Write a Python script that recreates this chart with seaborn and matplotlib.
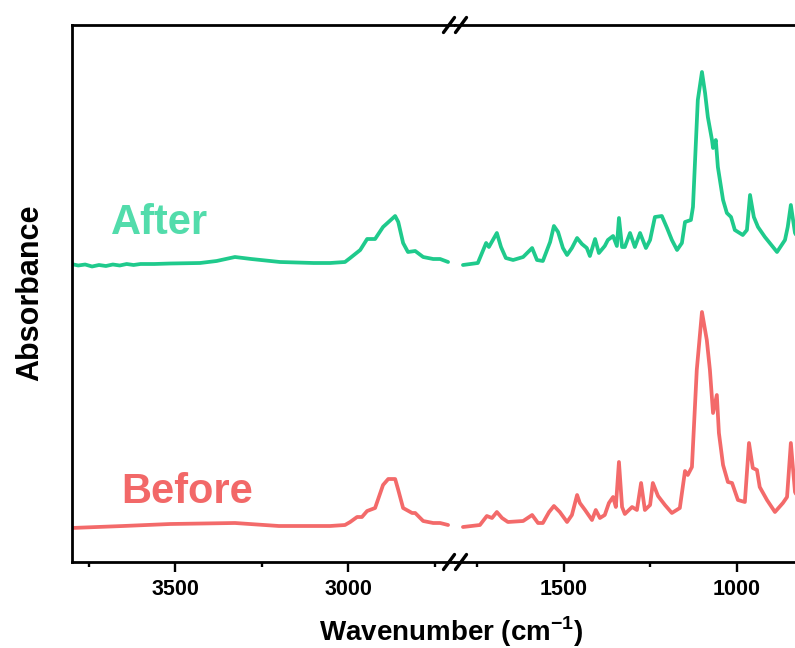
import matplotlib
matplotlib.use("Agg")
import matplotlib.pyplot as plt
import seaborn as sns
import pandas as pd

# ---------------- data ----------------
# High-wavenumber region (left panel), cm^-1
after_hi_wn = [3800, 3780, 3760, 3740, 3720, 3700, 3680, 3660, 3640, 3620, 3600,
               3560, 3514, 3428, 3380, 3327, 3280, 3197, 3100, 3052, 3009, 2994,
               2965, 2945, 2922, 2899, 2864, 2855, 2841, 2827, 2806, 2783, 2754,
               2734, 2711]
after_hi_abs = [2.98, 2.965, 2.975, 2.955, 2.97, 2.96, 2.975, 2.965, 2.98, 2.97, 2.98,
                2.98, 2.985, 2.99, 3.01, 3.05, 3.03, 3.00, 2.99, 2.99, 3.00, 3.04,
                3.12, 3.23, 3.23, 3.35, 3.46, 3.40, 3.19, 3.10, 3.11, 3.05, 3.03,
                3.03, 3.00]

before_hi_wn = [3800, 3650, 3514, 3327, 3200, 3052, 3009, 2994, 2974, 2960, 2945,
                2922, 2899, 2884, 2864, 2855, 2841, 2815, 2806, 2783, 2754, 2734, 2711]
before_hi_abs = [0.34, 0.36, 0.38, 0.39, 0.36, 0.36, 0.37, 0.40, 0.45, 0.45, 0.51,
                 0.54, 0.77, 0.83, 0.83, 0.72, 0.54, 0.49, 0.49, 0.41, 0.39, 0.39, 0.37]

# Fingerprint region (right panel), cm^-1
after_lo_wn = [1792, 1749, 1725, 1717, 1694, 1682, 1668, 1647, 1618, 1592, 1578,
               1561, 1540, 1529, 1517, 1503, 1491, 1477, 1462, 1448, 1434, 1425,
               1410, 1399, 1382, 1373, 1358, 1347, 1341, 1332, 1324, 1309, 1295,
               1280, 1263, 1251, 1237, 1217, 1202, 1188, 1173, 1159, 1150, 1133,
               1127, 1113, 1101, 1092, 1084, 1072, 1069, 1061, 1055, 1040, 1029,
               1017, 1006, 983, 971, 962, 951, 939, 919, 884, 861, 853, 844, 832, 820]
after_lo_abs = [2.97, 2.99, 3.19, 3.15, 3.29, 3.15, 3.04, 3.02, 3.05, 3.14, 3.02,
                3.01, 3.20, 3.36, 3.30, 3.14, 3.07, 3.14, 3.24, 3.18, 3.14, 3.06,
                3.23, 3.09, 3.16, 3.22, 3.26, 3.16, 3.44, 3.15, 3.15, 3.29, 3.15,
                3.29, 3.14, 3.22, 3.45, 3.46, 3.34, 3.22, 3.12, 3.19, 3.40, 3.42,
                3.55, 4.62, 4.90, 4.69, 4.45, 4.22, 4.14, 4.22, 3.95, 3.62, 3.49,
                3.45, 3.32, 3.27, 3.32, 3.67, 3.45, 3.35, 3.25, 3.10, 3.22, 3.35,
                3.57, 3.29, 3.22]

before_lo_wn = [1792, 1743, 1723, 1708, 1694, 1679, 1662, 1618, 1592, 1575, 1561,
                1543, 1529, 1512, 1491, 1477, 1462, 1454, 1439, 1419, 1408, 1396,
                1382, 1370, 1358, 1350, 1341, 1332, 1324, 1303, 1289, 1277, 1266,
                1251, 1243, 1228, 1208, 1188, 1165, 1150, 1142, 1130, 1116, 1101,
                1087, 1078, 1069, 1058, 1052, 1040, 1026, 1014, 997, 977, 965,
                954, 942, 934, 913, 890, 867, 855, 844, 832, 820]
before_lo_abs = [0.35, 0.37, 0.46, 0.44, 0.50, 0.44, 0.40, 0.41, 0.47, 0.39, 0.39,
                 0.50, 0.56, 0.50, 0.40, 0.47, 0.67, 0.59, 0.52, 0.42, 0.52, 0.44,
                 0.47, 0.59, 0.65, 0.55, 1.00, 0.55, 0.48, 0.55, 0.52, 0.79, 0.52,
                 0.57, 0.79, 0.66, 0.57, 0.49, 0.54, 0.91, 0.87, 0.95, 1.92, 2.50,
                 2.22, 1.92, 1.49, 1.67, 1.29, 0.97, 0.80, 0.79, 0.62, 0.60, 1.19,
                 0.94, 0.92, 0.75, 0.62, 0.50, 0.59, 0.65, 1.19, 0.70, 0.62]

left_xlim = (3798, 2691)
right_xlim = (1815, 832)
left_major = [3500, 3000]
left_minor = [3750, 3250, 2750]
right_major = [1500, 1000]
right_minor = [1750, 1250]

green_line = "#1fca8c"
green_text = "#52dcab"
red_line = "#f36a6a"
red_text = "#f26868"

# ---------------- figure ----------------
sns.set_theme(style="ticks")
plt.rcParams["font.family"] = ["Liberation Sans", "DejaVu Sans"]
plt.rcParams["font.weight"] = "bold"
plt.rcParams["text.color"] = "black"
plt.rcParams["xtick.color"] = "black"
plt.rcParams["xtick.labelcolor"] = "black"
plt.rcParams["mathtext.fontset"] = "custom"
plt.rcParams["mathtext.rm"] = "Liberation Sans:bold"
plt.rcParams["mathtext.bf"] = "Liberation Sans:bold"

W, H = 795, 648
fig = plt.figure(figsize=(W / 100, H / 100), dpi=100)
x0, xb, x1 = 72, 455, 795
ytop, ybot = 25, 562
ax1 = fig.add_axes([x0 / W, (H - ybot) / H, (xb - x0) / W, (ybot - ytop) / H])
ax2 = fig.add_axes([xb / W, (H - ybot) / H, (x1 - xb) / W, (ybot - ytop) / H])

def frame(wn, ab):
    return pd.DataFrame({"wn": wn, "abs": ab})

for ax, a_wn, a_ab, b_wn, b_ab in [
    (ax1, after_hi_wn, after_hi_abs, before_hi_wn, before_hi_abs),
    (ax2, after_lo_wn, after_lo_abs, before_lo_wn, before_lo_abs),
]:
    sns.lineplot(data=frame(a_wn, a_ab), x="wn", y="abs", ax=ax, color=green_line,
                 lw=2.7, estimator=None, sort=False, solid_joinstyle="round",
                 solid_capstyle="round")
    sns.lineplot(data=frame(b_wn, b_ab), x="wn", y="abs", ax=ax, color=red_line,
                 lw=2.7, estimator=None, sort=False, solid_joinstyle="round",
                 solid_capstyle="round")
    ax.set_ylim(0, 5.37)
    ax.set_yticks([])
    ax.set_xlabel("")
    ax.set_ylabel("")
    for s in ax.spines.values():
        s.set_linewidth(2.0)
        s.set_color("black")
    ax.tick_params(axis="x", which="major", direction="out", length=7, width=1.7,
                   labelsize=15.5, pad=5, colors="black")
    ax.tick_params(axis="x", which="minor", direction="out", length=3.5, width=1.7,
                   colors="black")

ax1.set_xlim(*left_xlim)
ax2.set_xlim(*right_xlim)
ax1.set_xticks(left_major)
ax1.set_xticks(left_minor, minor=True)
ax2.set_xticks(right_major)
ax2.set_xticks(right_minor, minor=True)
for ax in (ax1, ax2):
    ax.set_xticklabels([str(v) for v in ax.get_xticks()], fontweight="bold",
                       fontsize=15.5, color="black")

ax1.spines["right"].set_visible(False)
ax2.spines["left"].set_visible(False)
ax2.spines["right"].set_visible(False)

# break marks "//" on top and bottom spines
for yy in (ytop, ybot):
    for dx in (-6, 6):
        cx = xb + dx
        fig.add_artist(plt.Line2D([(cx - 5.5) / W, (cx + 5.5) / W],
                                  [(H - yy - 7.5) / H, (H - yy + 7.5) / H],
                                  color="black", lw=2.4, transform=fig.transFigure))

# annotations
fig.text(160 / W, (H - 223) / H, "After", color=green_text, fontsize=30,
         fontweight="bold", ha="center", va="center")
fig.text(187 / W, (H - 492) / H, "Before", color=red_text, fontsize=30,
         fontweight="bold", ha="center", va="center")

fig.text(30 / W, (H - 293) / H, "Absorbance", rotation=90, fontsize=22,
         fontweight="bold", ha="center", va="center", color="black")
fig.text(451 / W, (H - 632) / H, r"Wavenumber (cm$^{\mathbf{-1}}$)", fontsize=20,
         fontweight="bold", ha="center", va="center", color="black")

fig.savefig("out.png", dpi=100)
